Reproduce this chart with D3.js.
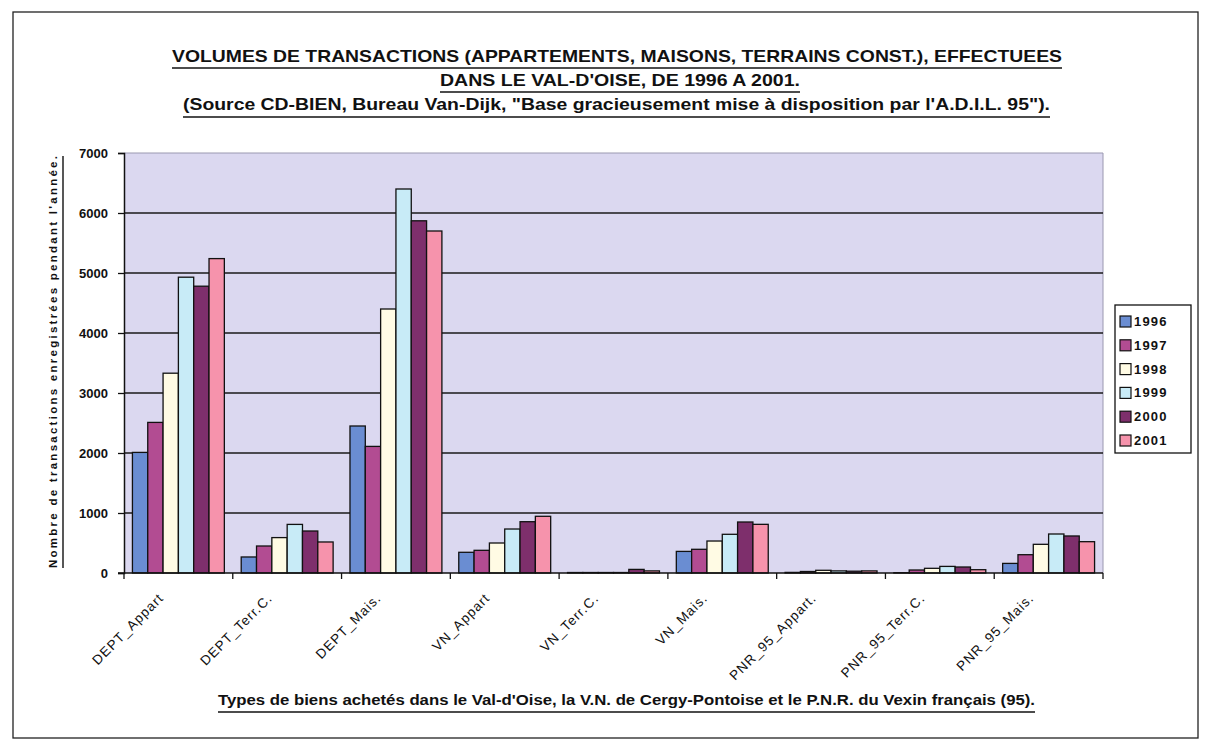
<!DOCTYPE html>
<html><head><meta charset="utf-8">
<script src="https://cdn.jsdelivr.net/npm/d3@7/dist/d3.min.js"></script>
<style>body{margin:0;background:#fff}svg{display:block}</style>
</head><body>
<script>
const categories = ["DEPT_Appart","DEPT_Terr.C.","DEPT_Mais.","VN_Appart","VN_Terr.C.","VN_Mais.","PNR_95_Appart.","PNR_95_Terr.C.","PNR_95_Mais."];
const years = ["1996","1997","1998","1999","2000","2001"];
const v1996 = [2010, 267, 2450, 345, 8, 360, 10, 5, 160];
const v1997 = [2510, 450, 2110, 378, 8, 395, 25, 50, 305];
const v1998 = [3330, 590, 4400, 500, 8, 533, 45, 78, 478];
const v1999 = [4930, 810, 6400, 733, 8, 645, 35, 110, 650];
const v2000 = [4780, 700, 5870, 855, 60, 850, 30, 100, 617];
const v2001 = [5240, 517, 5700, 945, 35, 811, 35, 55, 522];
const yTicks = [0,1000,2000,3000,4000,5000,6000,7000];
const colors = ["#6a8dd2","#b24c92","#fffbe4","#c8ebf7","#7e2f6c","#f693ac"];
const titleLines = [
  "VOLUMES DE TRANSACTIONS (APPARTEMENTS, MAISONS, TERRAINS CONST.), EFFECTUEES",
  "DANS LE VAL-D'OISE, DE 1996 A 2001.",
  "(Source CD-BIEN, Bureau Van-Dijk, \"Base gracieusement mise à disposition par l'A.D.I.L. 95\")."
];
const yTitle = "Nombre de transactions enregistrées pendant l'année.";
const xTitle = "Types de biens achetés dans le Val-d'Oise, la V.N. de Cergy-Pontoise et le P.N.R. du Vexin français (95).";

const series = [v1996,v1997,v1998,v1999,v2000,v2001];
const W = 1212, H = 750;
const svg = d3.select("body").append("svg").attr("width",W).attr("height",H);
const font = "'Liberation Sans', Arial, sans-serif";

// outer frame
svg.append("rect").attr("x",13).attr("y",12).attr("width",1185).attr("height",726)
  .attr("fill","none").attr("stroke","#222").attr("stroke-width",1.3);

// titles
const tl = [
  {x0:172,x1:1062,y:62,u:68},
  {x0:440,x1:800,y:86,u:92},
  {x0:183,x1:1050,y:110,u:117}
];
titleLines.forEach((t,i)=>{
  const p = tl[i];
  svg.append("text").attr("x",p.x0).attr("y",p.y).text(t)
    .attr("font-family",font).attr("font-weight","bold").attr("font-size",17)
    .attr("textLength",p.x1-p.x0).attr("lengthAdjust","spacingAndGlyphs").attr("fill","#111");
  svg.append("line").attr("x1",p.x0).attr("x2",p.x1).attr("y1",p.u).attr("y2",p.u)
    .attr("stroke","#111").attr("stroke-width",1.6);
});

const x0 = 124, x1 = 1103, yT = 153, yB = 573;
const x = d3.scaleBand().domain(categories).range([x0,x1]).paddingInner(0.155).paddingOuter(0.0775);
const xs = d3.scaleBand().domain(years).range([0,x.bandwidth()]);
const y = d3.scaleLinear().domain([0,7000]).range([yB,yT]);

// plot background
svg.append("rect").attr("x",x0).attr("y",yT).attr("width",x1-x0).attr("height",yB-yT)
  .attr("fill","#dbd8f0");
svg.append("line").attr("x1",x0).attr("x2",x1).attr("y1",yT).attr("y2",yT).attr("stroke","#9a98b0").attr("stroke-width",1);
svg.append("line").attr("x1",x1).attr("x2",x1).attr("y1",yT).attr("y2",yB).attr("stroke","#9a98b0").attr("stroke-width",1);

// gridlines
svg.append("g").selectAll("line").data(yTicks.filter(d=>d>0 && d<7000)).join("line")
  .attr("x1",x0).attr("x2",x1).attr("y1",d=>y(d)).attr("y2",d=>y(d))
  .attr("stroke","#1a1a1a").attr("stroke-width",1.4);

// bars
const g = svg.append("g");
categories.forEach((c,ci)=>{
  series.forEach((s,si)=>{
    g.append("rect")
      .attr("x",x(c)+xs(years[si]))
      .attr("y",y(s[ci]))
      .attr("width",xs.bandwidth())
      .attr("height",yB-y(s[ci]))
      .attr("fill",colors[si]).attr("stroke","#111").attr("stroke-width",1.3);
  });
});

// y axis
const yAxis = d3.axisLeft(y).tickValues(yTicks).tickSize(6).tickPadding(10).tickFormat(d3.format("d"));
const ya = svg.append("g").attr("transform",`translate(${x0},0)`).call(yAxis);
ya.select(".domain").attr("stroke","#111").attr("stroke-width",1.5);
ya.selectAll(".tick line").attr("stroke","#111").attr("stroke-width",1.3);
ya.selectAll("text").attr("font-family",font).attr("font-weight","bold").attr("font-size",13).attr("fill","#111");

// x axis
svg.append("line").attr("x1",x0-6).attr("x2",x1).attr("y1",yB).attr("y2",yB).attr("stroke","#111").attr("stroke-width",1.5);
const bounds = d3.range(categories.length+1).map(i=>x0+i*x.step());
svg.append("g").selectAll("line").data(bounds).join("line")
  .attr("x1",d=>d).attr("x2",d=>d).attr("y1",yB).attr("y2",yB+6).attr("stroke","#111").attr("stroke-width",1.3);
svg.append("g").selectAll("text").data(categories).join("text")
  .attr("transform",d=>`translate(${x(d)+x.bandwidth()/2-14},${yB+26}) rotate(-45)`)
  .attr("text-anchor","end").attr("font-family",font).attr("font-size",13.5)
  .attr("letter-spacing",1).attr("fill","#111").text(d=>d);

// y title
svg.append("text").attr("transform",`translate(57,362) rotate(-90)`).attr("text-anchor","middle")
  .attr("font-family",font).attr("font-weight","bold").attr("font-size",11.5)
  .attr("textLength",412).attr("lengthAdjust","spacing").attr("fill","#111").text(yTitle);
svg.append("line").attr("x1",63).attr("x2",63).attr("y1",156).attr("y2",568).attr("stroke","#111").attr("stroke-width",1.4);

// x title
svg.append("text").attr("x",218).attr("y",705).attr("font-family",font).attr("font-weight","bold")
  .attr("font-size",14).attr("textLength",817).attr("lengthAdjust","spacingAndGlyphs").attr("fill","#111").text(xTitle);
svg.append("line").attr("x1",218).attr("x2",1035).attr("y1",712).attr("y2",712).attr("stroke","#111").attr("stroke-width",1.5);

// legend
const lg = svg.append("g").attr("transform","translate(1115,305)");
lg.append("rect").attr("width",76).attr("height",148).attr("fill","#fff").attr("stroke","#111").attr("stroke-width",1.3);
years.forEach((yr,i)=>{
  const yy = 16 + i*23.8;
  lg.append("rect").attr("x",5).attr("y",yy-5).attr("width",11).attr("height",11)
    .attr("fill",colors[i]).attr("stroke","#111").attr("stroke-width",1.2);
  lg.append("text").attr("x",19).attr("y",yy+5).attr("font-family",font).attr("font-weight","bold")
    .attr("font-size",13).attr("letter-spacing",1.2).attr("fill","#111").text(yr);
});
</script>
</body></html>
